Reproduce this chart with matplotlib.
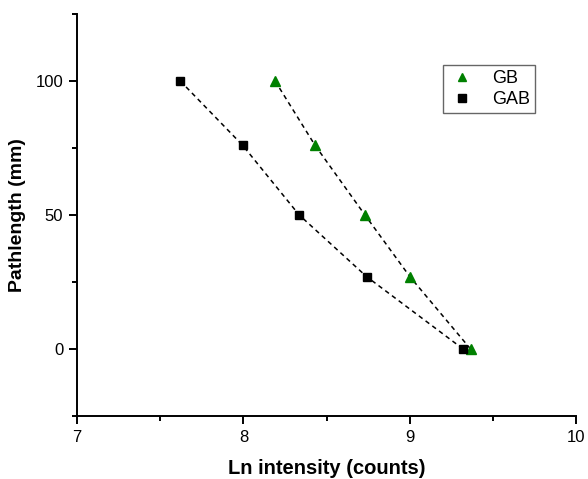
import matplotlib.pyplot as plt
from matplotlib.ticker import MultipleLocator

plt.rcParams['font.family'] = ['Liberation Sans', 'DejaVu Sans']

# data
gb_x = [8.19, 8.43, 8.73, 9.00, 9.365]
gb_y = [100, 76, 50, 27, 0]
gab_x = [7.62, 7.995, 8.335, 8.74, 9.32]
gab_y = [100, 76, 50, 27, 0]

fig = plt.figure(figsize=(5.88, 4.79), dpi=100)
ax = fig.add_axes([0.131, 0.1315, 0.849, 0.8395])

ax.plot(gb_x, gb_y, '--', color='black', lw=1.1, dashes=(3, 2.5), zorder=1)
ax.plot(gab_x, gab_y, '--', color='black', lw=1.1, dashes=(3, 2.5), zorder=1)
ax.plot(gb_x, gb_y, '^', color='green', ms=7.5, mec='green', ls='none', label='GB', zorder=3)
ax.plot(gab_x, gab_y, 's', color='black', ms=6, ls='none', label='GAB', zorder=3)

ax.set_xlim(7, 10)
ax.set_ylim(-25, 125)
ax.xaxis.set_major_locator(MultipleLocator(1))
ax.xaxis.set_minor_locator(MultipleLocator(0.5))
ax.yaxis.set_major_locator(MultipleLocator(50))
ax.yaxis.set_minor_locator(MultipleLocator(25))

for s in ['top', 'right']:
    ax.spines[s].set_visible(False)
for s in ['left', 'bottom']:
    ax.spines[s].set_linewidth(1.4)
ax.tick_params(which='major', direction='out', length=6, width=1.4, labelsize=12, pad=4)
ax.tick_params(which='minor', direction='out', length=3.5, width=1.4)

ax.set_xlabel('Ln intensity (counts)', fontsize=14.5, fontweight='bold', labelpad=10)
ax.set_ylabel('Pathlength (mm)', fontsize=14, fontweight='bold', labelpad=7)

leg = ax.legend(loc='upper left', bbox_to_anchor=(0.733, 0.873), borderaxespad=0,
                fontsize=13, fancybox=False, framealpha=1, handletextpad=0.9,
                handlelength=1.5, borderpad=0.3, labelspacing=0.2, markerscale=0.85)
leg.get_frame().set_edgecolor('#666666')
leg.get_frame().set_linewidth(1.0)

fig.savefig('out.png', dpi=100)
